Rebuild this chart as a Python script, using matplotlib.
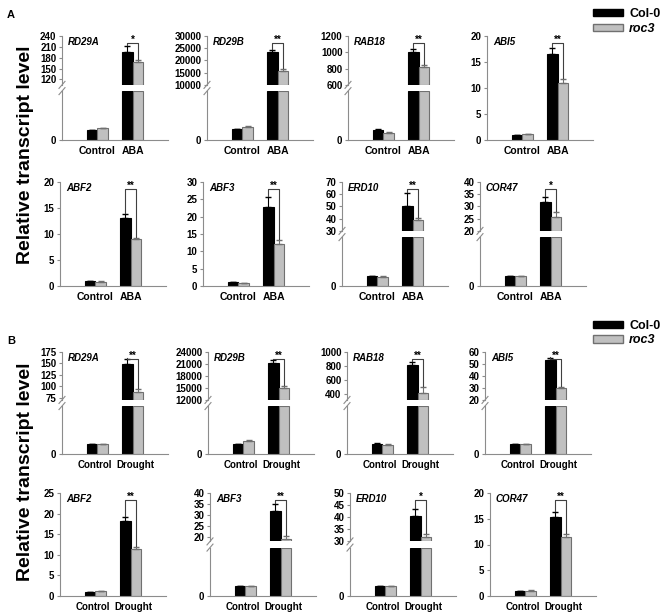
import matplotlib
matplotlib.use('Agg')
import matplotlib.pyplot as plt
from matplotlib.patches import Patch
import numpy as np

plt.rcParams['font.family'] = ['Liberation Sans', 'DejaVu Sans']

W, H = 669, 612

# ---- data: panel A (ABA) ----
genes_A = ['RD29A', 'RD29B', 'RAB18', 'ABI5', 'ABF2', 'ABF3', 'ERD10', 'COR47']
cats_A = ['Control', 'ABA']
ctrl_col_A = [1.0, 1.1, 1.0, 1.0, 1.0, 1.05, 1.0, 1.02]
ctrl_col_err_A = [0.05, 0.05, 0.1, 0.05, 0.05, 0.05, 0.03, 0.03]
ctrl_roc_A = [1.2, 1.35, 0.75, 1.15, 0.85, 0.75, 0.97, 1.0]
ctrl_roc_err_A = [0.05, 0.05, 0.05, 0.05, 0.03, 0.05, 0.03, 0.03]
trt_col_A = [196, 23300, 1000, 16.6, 13.15, 22.9, 50.5, 31.9]
trt_col_err_A = [16, 1000, 35, 1.0, 0.65, 2.7, 10.4, 2.1]
trt_roc_A = [168, 15600, 820, 11.0, 8.97, 12.2, 38.8, 25.6]
trt_roc_err_A = [7, 1100, 30, 0.8, 0.35, 1.2, 1.9, 2.1]
sig_A = ['*', '**', '**', '**', '**', '**', '**', '*']
# upper segment range for broken axes (None = continuous axis)
upper_A = [(105, 240), (10000, 30000), (600, 1200), None, None, None, (30, 70), (20, 40)]
ticks_A = [[120, 150, 180, 210, 240], [10000, 15000, 20000, 25000, 30000],
           [600, 800, 1000, 1200], [0, 5, 10, 15, 20], [0, 5, 10, 15, 20],
           [0, 5, 10, 15, 20, 25, 30], [30, 40, 50, 60, 70], [20, 25, 30, 35, 40]]

# ---- data: panel B (Drought) ----
genes_B = ['RD29A', 'RD29B', 'RAB18', 'ABI5', 'ABF2', 'ABF3', 'ERD10', 'COR47']
cats_B = ['Control', 'Drought']
ctrl_col_B = [1.0, 1.03, 1.07, 1.03, 0.97, 1.0, 1.0, 0.97]
ctrl_col_err_B = [0.03, 0.05, 0.05, 0.03, 0.05, 0.03, 0.03, 0.03]
ctrl_roc_B = [1.0, 1.38, 0.96, 1.05, 1.2, 1.0, 1.0, 1.05]
ctrl_roc_err_B = [0.03, 0.05, 0.05, 0.03, 0.05, 0.03, 0.03, 0.03]
trt_col_B = [149, 21230, 810, 53, 18.1, 32, 40.3, 15.3]
trt_col_err_B = [11, 830, 45, 2.3, 1.1, 3, 3.1, 0.95]
trt_roc_B = [88, 15100, 420, 30, 11.3, 19.3, 32, 11.45]
trt_roc_err_B = [7, 500, 85, 0.8, 0.5, 1.0, 1.1, 0.55]
sig_B = ['**', '**', '**', '**', '**', '**', '*', '**']
upper_B = [(70, 175), (12000, 24000), (315, 1000), (20, 60), None, (18, 40), (30, 50), None]
ticks_B = [[75, 100, 125, 150, 175], [12000, 15000, 18000, 21000, 24000],
           [400, 600, 800, 1000], [20, 30, 40, 50, 60], [0, 5, 10, 15, 20, 25],
           [20, 25, 30, 35, 40], [30, 35, 40, 45, 50], [0, 5, 10, 15, 20]]

LOW_TOP = 5  # top of the lower segment of broken axes

# ---- layout (pixels) ----
row_tops = [36, 182, 352, 493]
row_bots = [140, 286, 454, 596]
col_lefts = [[62, 207, 348, 487], [60, 203, 342, 480],
             [62, 208, 347, 485], [60, 210, 350, 490]]
AX_W = 106

SPINE = '#8c8c8c'
GRAY = '#c0c0c0'
GRAY_EDGE = '#707070'

fig = plt.figure(figsize=(W / 100, H / 100), dpi=100)


def px_axes(left, top, bottom):
    return fig.add_axes([left / W, 1 - bottom / H, AX_W / W, (bottom - top) / H])


def style(ax, show_x, xsize):
    for s in ['top', 'right']:
        ax.spines[s].set_visible(False)
    ax.spines['left'].set_color(SPINE)
    ax.spines['bottom'].set_color(SPINE)
    ax.spines['bottom'].set_visible(show_x)
    ax.tick_params(axis='y', direction='out', length=2.5, width=0.8, color=SPINE,
                   pad=1.5, labelsize=7)
    ax.tick_params(axis='x', length=0, pad=4, labelsize=xsize)
    for t in ax.get_yticklabels() + ax.get_xticklabels():
        t.set_fontweight('bold')
    ax.set_xlim(0, 3)


def draw_bars(ax, x, cv, ce, rv, re, bottom=0, clip_top=None):
    cv = np.asarray(cv, float)
    rv = np.asarray(rv, float)
    hc = cv if clip_top is None else np.minimum(cv, clip_top)
    hr = rv if clip_top is None else np.minimum(rv, clip_top)
    ax.bar(x - 0.15, hc - bottom, 0.3, bottom=bottom, color='black', edgecolor='black', lw=0.8)
    ax.bar(x + 0.15, hr - bottom, 0.3, bottom=bottom, color=GRAY, edgecolor=GRAY_EDGE, lw=0.8)
    if ce is not None:
        ax.errorbar(x - 0.15, cv, yerr=[np.zeros(len(cv)), ce], fmt='none',
                    ecolor='black', elinewidth=0.8, capsize=2)
        ax.errorbar(x + 0.15, rv, yerr=[np.zeros(len(rv)), re], fmt='none',
                    ecolor=GRAY_EDGE, elinewidth=0.8, capsize=2)


def bracket(ax, ax_h, ylo, yhi, cv, ce, rv, re, sig):
    yb = yhi - 7.0 / ax_h * (yhi - ylo)
    off = 1.0 / ax_h * (yhi - ylo)
    ax.plot([1.85, 1.85, 2.15, 2.15], [cv + ce + off, yb, yb, rv + re + off],
            color='#404040', lw=0.8, clip_on=False)
    ax.annotate(sig, (2.0, yb), xytext=(0, -1.5), textcoords='offset points',
                ha='center', va='bottom', fontsize=7, fontweight='bold')


def panel(left, top, bottom, gene, cats, lab_off, xsize,
          c0, c0e, r0, r0e, c1, c1e, r1, r1e, sig, upper, ticks):
    x = np.array([1.0, 2.0])
    labx = x + np.array(lab_off)
    hpx = bottom - top
    if upper is None:
        ax = px_axes(left, top, bottom)
        draw_bars(ax, x, [c0, c1], [c0e, c1e], [r0, r1], [r0e, r1e])
        ax.set_ylim(0, ticks[-1])
        ax.set_yticks(ticks)
        ax.set_xticks(labx, cats)
        style(ax, True, xsize)
        bracket(ax, hpx, 0, ticks[-1], c1, c1e, r1, r1e, sig)
    else:
        seg = 0.47 * hpx
        up = px_axes(left, top, top + seg)
        lo = px_axes(left, bottom - seg, bottom)
        # lower segment
        draw_bars(lo, np.array([1.0]), [c0], [c0e], [r0], [r0e])
        draw_bars(lo, np.array([2.0]), [c1], None, [r1], None, clip_top=LOW_TOP)
        lo.set_ylim(0, LOW_TOP)
        lo.set_yticks([0])
        lo.set_xticks(labx, cats)
        style(lo, True, xsize)
        # upper segment
        draw_bars(up, np.array([2.0]), [c1], [c1e], [r1], [r1e], bottom=upper[0])
        up.set_ylim(upper[0], ticks[-1])
        up.set_yticks(ticks)
        up.set_xticks([])
        style(up, False, xsize)
        bracket(up, seg, upper[0], ticks[-1], c1, c1e, r1, r1e, sig)
        # break marks
        dx = 3.0 / AX_W
        dy = 3.5 / seg
        up.plot([-dx, dx], [-dy, dy], transform=up.transAxes, color=SPINE, lw=0.8, clip_on=False)
        lo.plot([-dx, dx], [1 - dy, 1 + dy], transform=lo.transAxes, color=SPINE, lw=0.8, clip_on=False)
    fig.text((left + 6) / W, 1 - (top + 6) / H, gene, fontsize=7, fontweight='bold',
             fontstyle='italic', ha='left', va='center')


sets = [
    (genes_A, cats_A, [0, 0], 7.5, ctrl_col_A, ctrl_col_err_A, ctrl_roc_A, ctrl_roc_err_A,
     trt_col_A, trt_col_err_A, trt_roc_A, trt_roc_err_A, sig_A, upper_A, ticks_A),
    (genes_B, cats_B, [-0.08, 0.08], 7, ctrl_col_B, ctrl_col_err_B, ctrl_roc_B, ctrl_roc_err_B,
     trt_col_B, trt_col_err_B, trt_roc_B, trt_roc_err_B, sig_B, upper_B, ticks_B),
]

for s, (genes, cats, lab_off, xsize, c0, c0e, r0, r0e, c1, c1e, r1, r1e,
        sig, upper, ticks) in enumerate(sets):
    for i in range(8):
        row = s * 2 + i // 4
        col = i % 4
        panel(col_lefts[row][col], row_tops[row], row_bots[row], genes[i], cats,
              lab_off, xsize, c0[i], c0e[i], r0[i], r0e[i], c1[i], c1e[i], r1[i], r1e[i],
              sig[i], upper[i], ticks[i])

# y labels and panel letters
fig.text(26 / W, 1 - 155 / H, 'Relative transcript level', rotation=90,
         ha='center', va='center', fontsize=14, fontweight='bold')
fig.text(26 / W, 1 - 472 / H, 'Relative transcript level', rotation=90,
         ha='center', va='center', fontsize=14, fontweight='bold')
fig.text(7 / W, 1 - 15 / H, 'A', fontsize=8, fontweight='bold', ha='left', va='center')
fig.text(7 / W, 1 - 341 / H, 'B', fontsize=8, fontweight='bold', ha='left', va='center')

# legends
handles = [Patch(facecolor='black', edgecolor='black'),
           Patch(facecolor=GRAY, edgecolor=GRAY_EDGE)]
for ytop in [3, 315]:
    leg = fig.legend(handles, ['Col-0', 'roc3'], loc='upper left',
                     bbox_to_anchor=(588 / W, 1 - ytop / H), frameon=False,
                     fontsize=9, handlelength=2.4, handleheight=0.5,
                     handletextpad=0.5, labelspacing=0.2, borderaxespad=0)
    for t in leg.get_texts():
        t.set_fontweight('bold')
    leg.get_texts()[1].set_fontstyle('italic')

fig.savefig('out.png', dpi=100)
